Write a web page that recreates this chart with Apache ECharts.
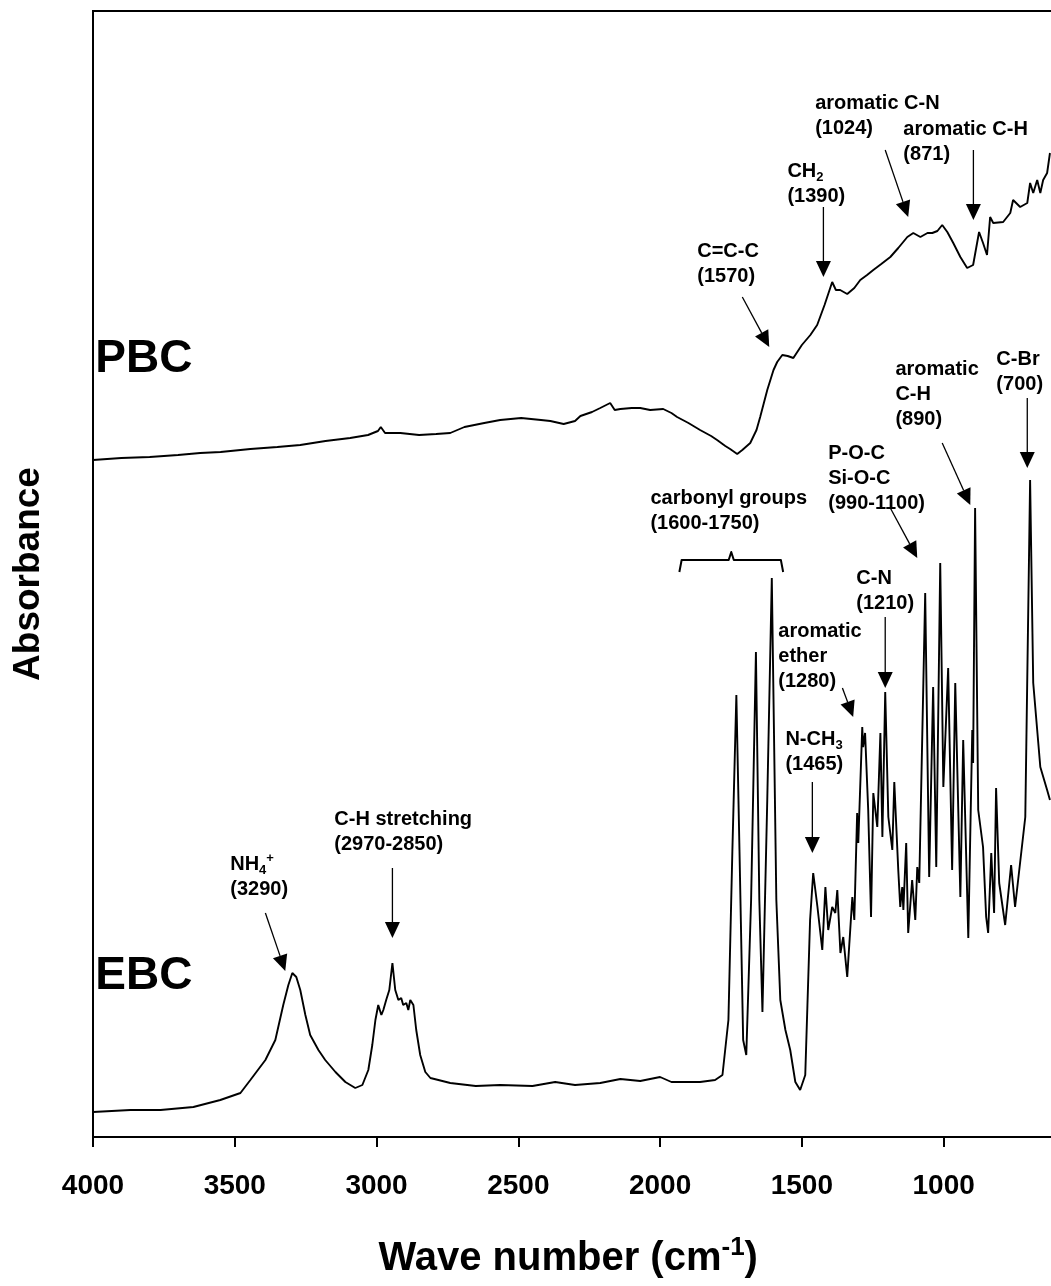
<!DOCTYPE html>
<html><head><meta charset="utf-8">
<script src="https://cdn.jsdelivr.net/npm/echarts@6/dist/echarts.min.js"></script>
<style>html,body{margin:0;padding:0;background:#fff}#c{width:1051px;height:1286px}</style>
</head><body><div id="c"></div>
<script>
// ---- Data (wave number in cm-1, absorbance in arbitrary units, curves offset) ----
const pbcWavenumber = [4000,3900,3800,3700,3622,3550,3445,3350,3269,3180,3093,3030,2995,2985,2970,2916,2850,2790,2740,2690,2620,2564,2490,2420,2387,2340,2300,2281,2240,2211,2190,2176,2160,2140,2100,2070,2035,1989,1960,1940,1900,1859,1820,1799,1770,1753,1728,1710,1682,1660,1647,1622,1600,1587,1569,1550,1530,1500,1470,1446,1420,1400,1393,1380,1365,1340,1315,1294,1270,1248,1220,1188,1160,1128,1107,1082,1057,1040,1022,1005,987,966,941,917,896,882,875,861,847,836,825,790,765,755,730,705,695,684,670,659,649,635,625];
const pbcAbsorbance = [0.677,0.679,0.680,0.682,0.684,0.685,0.688,0.690,0.692,0.696,0.699,0.702,0.706,0.710,0.704,0.704,0.702,0.703,0.704,0.710,0.714,0.717,0.719,0.717,0.716,0.713,0.716,0.721,0.725,0.729,0.732,0.734,0.727,0.728,0.729,0.729,0.727,0.728,0.724,0.720,0.714,0.707,0.701,0.697,0.691,0.688,0.683,0.687,0.694,0.707,0.720,0.747,0.767,0.775,0.782,0.781,0.779,0.792,0.802,0.812,0.832,0.849,0.855,0.847,0.847,0.843,0.849,0.857,0.862,0.867,0.873,0.880,0.889,0.900,0.904,0.900,0.904,0.904,0.906,0.912,0.905,0.894,0.880,0.869,0.872,0.894,0.905,0.894,0.882,0.920,0.914,0.915,0.924,0.937,0.930,0.934,0.954,0.944,0.957,0.944,0.957,0.964,0.984];

const ebcWavenumber = [4000,3868,3762,3646,3551,3480,3445,3392,3357,3329,3311,3297,3283,3269,3251,3234,3205,3181,3145,3110,3075,3050,3029,3015,3004,2994,2983,2976,2966,2955,2944,2934,2923,2913,2906,2895,2888,2881,2870,2860,2846,2828,2810,2740,2650,2564,2450,2370,2300,2211,2140,2070,2000,1960,1928,1859,1806,1780,1759,1745,1731,1720,1707,1696,1679,1662,1650,1639,1622,1606,1590,1576,1558,1541,1523,1506,1488,1471,1460,1445,1428,1417,1407,1393,1382,1375,1364,1354,1340,1322,1315,1305,1301,1287,1284,1277,1266,1256,1248,1234,1223,1216,1206,1195,1181,1174,1160,1153,1146,1142,1132,1125,1111,1100,1093,1086,1065,1051,1037,1026,1012,1001,984,970,959,941,931,913,899,896,889,878,861,850,843,832,822,815,804,783,762,748,712,695,684,659,635,625];
const ebcAbsorbance = [0.025,0.027,0.027,0.030,0.037,0.044,0.057,0.077,0.097,0.132,0.152,0.164,0.160,0.147,0.122,0.102,0.087,0.077,0.065,0.055,0.049,0.052,0.067,0.092,0.117,0.132,0.122,0.127,0.137,0.147,0.174,0.147,0.137,0.139,0.132,0.134,0.127,0.137,0.132,0.107,0.082,0.065,0.059,0.054,0.051,0.052,0.051,0.055,0.052,0.054,0.058,0.056,0.060,0.055,0.055,0.055,0.057,0.062,0.117,0.287,0.442,0.287,0.097,0.082,0.237,0.485,0.237,0.125,0.337,0.559,0.237,0.137,0.107,0.087,0.055,0.047,0.062,0.217,0.264,0.230,0.187,0.250,0.207,0.230,0.224,0.247,0.184,0.200,0.160,0.240,0.217,0.324,0.294,0.410,0.390,0.404,0.327,0.220,0.344,0.310,0.404,0.300,0.445,0.320,0.287,0.355,0.267,0.230,0.250,0.227,0.294,0.204,0.257,0.217,0.270,0.254,0.544,0.260,0.450,0.270,0.574,0.350,0.469,0.267,0.454,0.240,0.397,0.199,0.407,0.374,0.629,0.327,0.290,0.220,0.204,0.284,0.224,0.349,0.254,0.212,0.272,0.230,0.320,0.657,0.454,0.370,0.347,0.337];

const xTickValues = [4000,3500,3000,2500,2000,1500,1000];

// ---- Annotations (positions in data units: [wave number, absorbance]) ----
const labels = [
  {text:'aromatic C-N\n(1024)', at:[1453,1.046]},
  {text:'aromatic C-H\n(871)', at:[1142,1.020]},
  {text:'CH{sub|2}\n(1390)', at:[1551,0.978]},
  {text:'C=C-C\n(1570)', at:[1869,0.898]},
  {text:'aromatic\nC-H\n(890)', at:[1170,0.780]},
  {text:'C-Br\n(700)', at:[814,0.790]},
  {text:'P-O-C\nSi-O-C\n(990-1100)', at:[1407,0.696]},
  {text:'carbonyl groups\n(1600-1750)', at:[2034,0.651]},
  {text:'C-N\n(1210)', at:[1308,0.571]},
  {text:'aromatic\nether\n(1280)', at:[1583,0.518]},
  {text:'N-CH{sub|3}\n(1465)', at:[1558,0.410]},
  {text:'C-H stretching\n(2970-2850)', at:[3149,0.330]},
  {text:'NH{sub|4}{sup|+}\n(3290)', at:[3516,0.285]}
];
const bigLabels = [
  {text:'PBC', at:[3992,0.801]},
  {text:'EBC', at:[3992,0.184]}
];
const arrows = [
  {from:[1710,0.840], to:[1615,0.790]},
  {from:[1424,0.930], to:[1424,0.860]},
  {from:[1206,0.987], to:[1125,0.920]},
  {from:[895,0.987], to:[895,0.917]},
  {from:[705,0.739], to:[705,0.669]},
  {from:[1005,0.694], to:[906,0.632]},
  {from:[1188,0.629], to:[1093,0.579]},
  {from:[1206,0.520], to:[1206,0.449]},
  {from:[1357,0.449], to:[1319,0.420]},
  {from:[1463,0.355], to:[1463,0.284]},
  {from:[2944,0.269], to:[2944,0.199]},
  {from:[3392,0.224], to:[3322,0.166]}
];
const bracket = [[1932,0.565],[1924,0.577],[1758,0.577],[1749,0.585],[1740,0.577],[1574,0.577],[1566,0.565]];

const FONT = "'Liberation Sans', Arial, Helvetica, sans-serif";
const chart = echarts.init(document.getElementById('c'), null, {renderer:'canvas'});

function zip(a,b){ return a.map((v,i)=>[v,b[i]]); }

chart.setOption({
  animation:false,
  backgroundColor:'#fff',
  grid:{left:93, width:992.4, top:11, bottom:149, outerBoundsMode:'none', containLabel:false,
        show:true, borderColor:'#000', borderWidth:2, backgroundColor:'transparent'},
  xAxis:{
    type:'value', inverse:true, min:500, max:4000, interval:500,
    axisLine:{show:true, onZero:false, lineStyle:{color:'#000', width:2}},
    axisTick:{show:true, inside:false, length:10, lineStyle:{color:'#000', width:2}},
    splitLine:{show:false},
    axisLabel:{color:'#000', fontFamily:FONT, fontWeight:'bold', fontSize:28, margin:35,
      formatter:v=> xTickValues.indexOf(v)>=0 ? String(v) : ''},
    name:'Wave number (cm{sup|-1})', nameLocation:'middle', nameGap:98,
    nameTextStyle:{color:'#000', fontFamily:FONT, fontWeight:'bold', fontSize:40, lineHeight:48,
      padding:[0,42,0,0],
      rich:{sup:{fontFamily:FONT, fontWeight:'bold', fontSize:26, verticalAlign:'top', lineHeight:26, color:'#000'}}}
  },
  yAxis:{
    type:'value', min:0, max:1.126,
    axisLine:{show:true, lineStyle:{color:'#000', width:2}},
    axisTick:{show:false}, axisLabel:{show:false}, splitLine:{show:false},
    name:'Absorbance', nameLocation:'middle', nameGap:46, nameRotate:90,
    nameTextStyle:{color:'#000', fontFamily:FONT, fontWeight:'bold', fontSize:37}
  },
  series:[
    {name:'PBC', type:'line', data:zip(pbcWavenumber,pbcAbsorbance), showSymbol:false, symbol:'none',
     lineStyle:{color:'#000', width:1.9}},
    {name:'EBC', type:'line', data:zip(ebcWavenumber,ebcAbsorbance), showSymbol:false, symbol:'none',
     lineStyle:{color:'#000', width:1.9}}
  ]
});

function toPx(p){ return chart.convertToPixel({xAxisIndex:0, yAxisIndex:0}, p); }
const g = [];
const richStyles = {
  sub:{fontFamily:FONT, fontWeight:'bold', fontSize:13, lineHeight:12, verticalAlign:'bottom', fill:'#000'},
  sup:{fontFamily:FONT, fontWeight:'bold', fontSize:13, lineHeight:12, verticalAlign:'top', fill:'#000'}
};
labels.forEach(l=>{
  const p = toPx(l.at);
  g.push({type:'text', x:p[0], y:p[1], silent:true, style:{text:l.text, fill:'#000', fontFamily:FONT, fontWeight:'bold', fontSize:20, lineHeight:25, align:'left', verticalAlign:'top', rich:richStyles}});
});
bigLabels.forEach(l=>{
  const p = toPx(l.at);
  g.push({type:'text', x:p[0], y:p[1], silent:true, style:{text:l.text, fill:'#000', fontFamily:FONT, fontWeight:'bold', fontSize:46, align:'left', verticalAlign:'top'}});
});
arrows.forEach(a=>{
  const p0 = toPx(a.from), p1 = toPx(a.to);
  const dx = p1[0]-p0[0], dy = p1[1]-p0[1], len = Math.hypot(dx,dy);
  const ux = dx/len, uy = dy/len, nx = -uy, ny = ux;
  const hl = 16, hw = 7.5;
  const bx = p1[0]-ux*hl, by = p1[1]-uy*hl;
  g.push({type:'line', silent:true, shape:{x1:p0[0], y1:p0[1], x2:bx, y2:by}, style:{stroke:'#000', lineWidth:1.3}});
  g.push({type:'polygon', silent:true, shape:{points:[[p1[0],p1[1]],[bx+nx*hw,by+ny*hw],[bx-nx*hw,by-ny*hw]]}, style:{fill:'#000'}});
});
g.push({type:'polyline', silent:true, shape:{points:bracket.map(toPx)}, style:{stroke:'#000', lineWidth:2, fill:null, lineJoin:'round'}});
chart.setOption({graphic:{elements:g}});
</script></body></html>
